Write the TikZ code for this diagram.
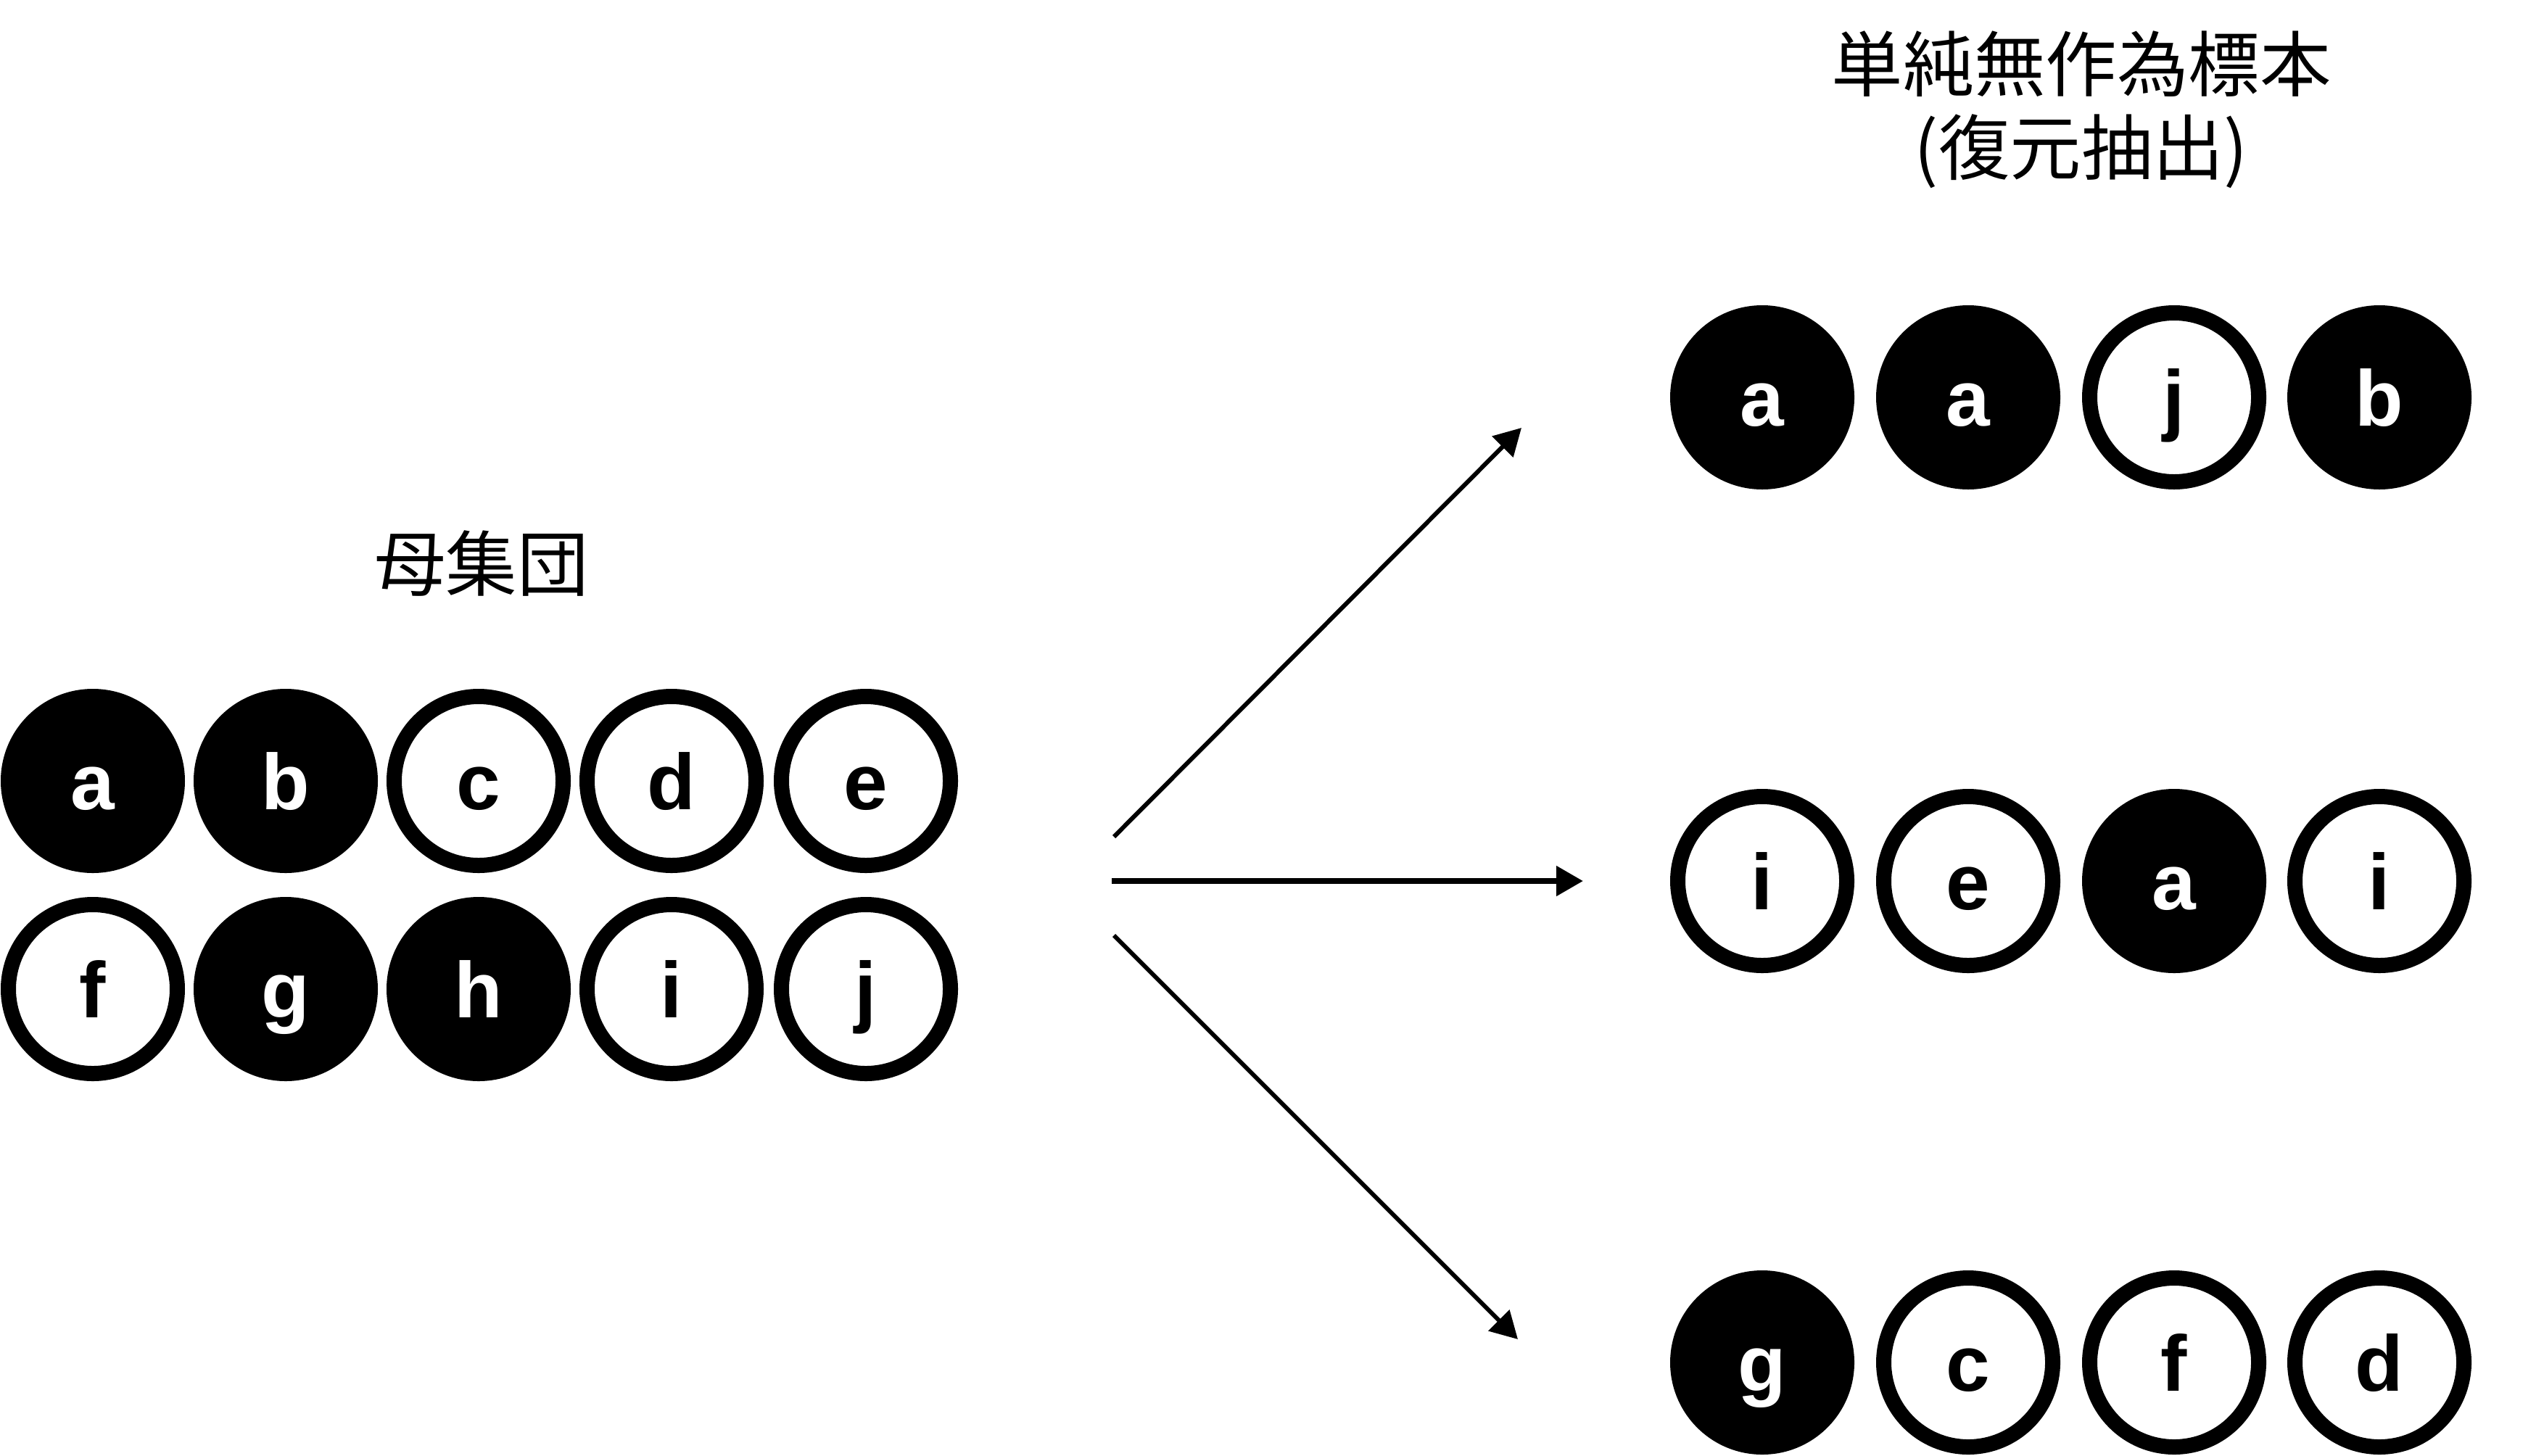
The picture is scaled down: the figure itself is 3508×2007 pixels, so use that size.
\documentclass[tikz,border=0pt]{standalone}
\usepackage{fontspec}
\usetikzlibrary{arrows.meta}
\newfontfamily\letfont{Liberation Sans}
\newfontfamily\jpfont{Noto Sans CJK JP}
\begin{document}
\begin{tikzpicture}[x=0.1mm,y=-0.1mm,
  ball/.style={circle, inner sep=0pt, outer sep=0pt, text height=7.8mm, text depth=0pt,
    font=\letfont\bfseries\fontsize{31}{31}\selectfont},
  dark/.style={ball, fill=black, text=white, minimum size=25.4mm},
  ring/.style={ball, draw=black, line width=2.1mm, fill=white, text=black, minimum size=23.3mm},
  jp/.style={font=\jpfont\fontsize{28}{34}\selectfont, inner sep=0pt},
  arr/.style={-{Triangle[length=3.7mm,width=4mm]}, line width=0.6mm, black}
]
\useasboundingbox (0,0) rectangle (3508,2007);

% titles
\node[jp] (poptitle) at (664,777) {母集団};
\node[jp] (samptitle1) at (2870,88) {単純無作為標本};
\node[jp] (samptitle2) at (2870,209) {(復元抽出)};

% population
\node[dark] (pa) at (128,1077) {a};
\node[dark] (pb) at (394,1077) {b};
\node[ring] (pc) at (660,1077) {c};
\node[ring] (pd) at (926,1077) {d};
\node[ring] (pe) at (1194,1077) {e};
\node[ring] (pf) at (128,1364) {f};
\node[dark] (pg) at (394,1364) {g};
\node[dark] (ph) at (660,1364) {h};
\node[ring] (pi) at (926,1364) {i};
\node[ring] (pj) at (1194,1364) {j};

% sample 1
\node[dark] (s1a) at (2430,548) {a};
\node[dark] (s1b) at (2714,548) {a};
\node[ring] (s1c) at (2998,548) {j};
\node[dark] (s1d) at (3281,548) {b};
% sample 2
\node[ring] (s2a) at (2430,1215) {i};
\node[ring] (s2b) at (2714,1215) {e};
\node[dark] (s2c) at (2998,1215) {a};
\node[ring] (s2d) at (3281,1215) {i};
% sample 3
\node[dark] (s3a) at (2430,1879) {g};
\node[ring] (s3b) at (2714,1879) {c};
\node[ring] (s3c) at (2998,1879) {f};
\node[ring] (s3d) at (3281,1879) {d};

% arrows
\coordinate (a1s) at (1536,1154);
\coordinate (a1e) at (2098,590);
\coordinate (a2s) at (1533,1215);
\coordinate (a2e) at (2183,1215);
\coordinate (a3s) at (1536,1290);
\coordinate (a3e) at (2093,1847);
\draw[arr] (a1s) -- (a1e);
\draw[arr, line width=0.8mm] (a2s) -- (a2e);
\draw[arr] (a3s) -- (a3e);
\end{tikzpicture}
\end{document}
